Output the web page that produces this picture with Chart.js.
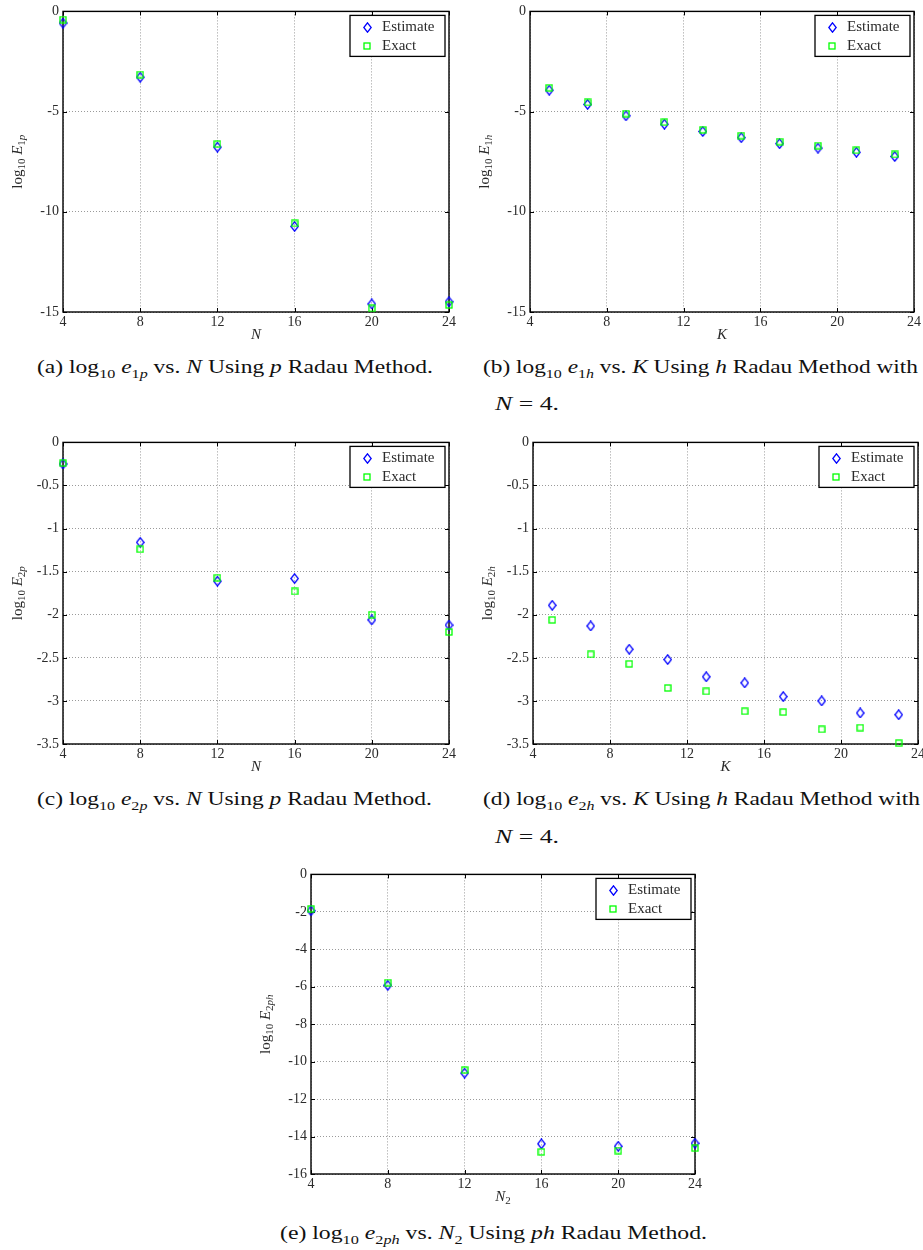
<!DOCTYPE html>
<html>
<head>
<meta charset="utf-8">
<script src="https://cdn.jsdelivr.net/npm/chart.js@4.4.1/dist/chart.umd.min.js"></script>
<style>
  body { margin: 0; background: #fff; overflow: hidden; width: 923px; height: 1250px; position: relative; }
  canvas { position: absolute; }
  .cap { position: absolute; font-family: "Liberation Serif", serif; font-size: 19px; line-height: 20px; white-space: nowrap; color: #111; transform-origin: 0 50%; }
  .cap sub { font-size: 13px; line-height: 0; }
</style>
</head>
<body>
<canvas id="chartA"></canvas>
<canvas id="chartB"></canvas>
<canvas id="chartC"></canvas>
<canvas id="chartD"></canvas>
<canvas id="chartE"></canvas>

<div class="cap" data-w="396" style="left:37px;top:357px">(a) log<sub>10</sub> <i>e</i><sub>1<i>p</i></sub> vs. <i>N</i> Using <i>p</i> Radau Method.</div>
<div class="cap" data-w="435" style="left:483px;top:357px">(b) log<sub>10</sub> <i>e</i><sub>1<i>h</i></sub> vs. <i>K</i> Using <i>h</i> Radau Method with</div>
<div class="cap" data-w="64" style="left:495px;top:394px"><i>N</i> = 4.</div>
<div class="cap" data-w="395" style="left:37px;top:789px">(c) log<sub>10</sub> <i>e</i><sub>2<i>p</i></sub> vs. <i>N</i> Using <i>p</i> Radau Method.</div>
<div class="cap" data-w="437" style="left:483px;top:789px">(d) log<sub>10</sub> <i>e</i><sub>2<i>h</i></sub> vs. <i>K</i> Using <i>h</i> Radau Method with</div>
<div class="cap" data-w="64" style="left:495px;top:827px"><i>N</i> = 4.</div>
<div class="cap" data-w="427" style="left:280px;top:1223px">(e) log<sub>10</sub> <i>e</i><sub>2<i>ph</i></sub> vs. <i>N</i><sub>2</sub> Using <i>ph</i> Radau Method.</div>

<script>
// x values
const nValues = [4, 8, 12, 16, 20, 24];
const kValues = [5, 7, 9, 11, 13, 15, 17, 19, 21, 23];

// (a) p method, e1
const e1pEstimate = [-0.58, -3.28, -6.77, -10.73, -14.60, -14.49];
const e1pExact = [-0.41, -3.15, -6.62, -10.58, -14.82, -14.65];
// (b) h method, e1
const e1hEstimate = [-3.93, -4.64, -5.21, -5.63, -5.99, -6.30, -6.60, -6.82, -7.03, -7.24];
const e1hExact = [-3.81, -4.54, -5.10, -5.53, -5.91, -6.20, -6.50, -6.70, -6.93, -7.14];
// (c) p method, e2
const e2pEstimate = [-0.25, -1.16, -1.61, -1.58, -2.06, -2.12];
const e2pExact = [-0.24, -1.24, -1.57, -1.73, -2.00, -2.20];
// (d) h method, e2
const e2hEstimate = [-1.89, -2.13, -2.40, -2.52, -2.72, -2.79, -2.95, -3.00, -3.14, -3.16];
const e2hExact = [-2.06, -2.46, -2.57, -2.85, -2.89, -3.12, -3.13, -3.33, -3.31, -3.49];
// (e) ph method, e2
const e2phEstimate = [-1.94, -5.92, -10.61, -14.39, -14.52, -14.36];
const e2phExact = [-1.84, -5.78, -10.45, -14.82, -14.75, -14.62];

// tick labels
const xTicks = [4, 8, 12, 16, 20, 24];
const yTicks15 = [0, -5, -10, -15];
const yTicks35 = [0, -0.5, -1, -1.5, -2, -2.5, -3, -3.5];
const yTicks16 = [0, -2, -4, -6, -8, -10, -12, -14, -16];

const legendLabels = ['Estimate', 'Exact'];

const FONT = '"Liberation Serif", serif';
const TEXT = '#2a2a2a';

// stretch captions to the width they have in the figure (Palatino is wider than Times)
document.querySelectorAll('.cap').forEach(el => {
  const w = el.getBoundingClientRect().width;
  el.style.transform = 'scaleX(' + (Number(el.dataset.w) / w) + ')';
});

// markers: tall blue diamond, green square
function makeDiamond() {
  const c = document.createElement('canvas');
  c.width = 9; c.height = 11;
  const g = c.getContext('2d');
  g.strokeStyle = '#0000ff';
  g.lineWidth = 1.3;
  g.beginPath();
  g.moveTo(4.5, 0.8); g.lineTo(8.2, 5.5); g.lineTo(4.5, 10.2); g.lineTo(0.8, 5.5);
  g.closePath();
  g.stroke();
  return c;
}
function makeSquare() {
  const c = document.createElement('canvas');
  c.width = 8; c.height = 8;
  const g = c.getContext('2d');
  g.strokeStyle = '#00ff00';
  g.lineWidth = 1.3;
  g.strokeRect(1, 1, 6, 6);
  return c;
}
const diamond = makeDiamond();
const square = makeSquare();

function fontFor(p) {
  return (p[1] ? 'italic ' : '') + (p[2] ? 11 : 15) + 'px ' + FONT;
}

// text with subscripts, centred on (x, y)
function drawRich(ctx, parts, x, y, vertical) {
  ctx.save();
  ctx.translate(x, y);
  if (vertical) ctx.rotate(-Math.PI / 2);
  ctx.fillStyle = TEXT;
  ctx.textBaseline = 'alphabetic';
  ctx.textAlign = 'left';
  let total = 0;
  parts.forEach(p => { ctx.font = fontFor(p); total += ctx.measureText(p[0]).width; });
  let cx = -total / 2;
  parts.forEach(p => {
    ctx.font = fontFor(p);
    ctx.fillText(p[0], cx, p[2] ? 8 : 5);
    cx += ctx.measureText(p[0]).width;
  });
  ctx.restore();
}

const framePlugin = {
  id: 'frame',
  beforeDatasetsDraw(chart) {
    const { ctx, chartArea: a, scales } = chart;
    ctx.save();
    ctx.strokeStyle = '#000';
    ctx.lineWidth = 1;
    ctx.beginPath();
    xTicks.forEach(v => {
      const px = Math.round(scales.x.getPixelForValue(v)) + 0.5;
      ctx.moveTo(px, a.bottom); ctx.lineTo(px, a.bottom - 4);
      ctx.moveTo(px, a.top); ctx.lineTo(px, a.top + 4);
    });
    scales.y.ticks.forEach(t => {
      const py = Math.round(scales.y.getPixelForValue(t.value)) + 0.5;
      ctx.moveTo(a.left, py); ctx.lineTo(a.left + 4, py);
      ctx.moveTo(a.right, py); ctx.lineTo(a.right - 4, py);
    });
    ctx.stroke();
    ctx.lineWidth = 1.4;
    ctx.strokeRect(a.left, a.top, a.right - a.left, a.bottom - a.top);
    ctx.restore();
  },
  afterDatasetsDraw(chart, args, opts) {
    const { ctx, chartArea: a } = chart;
    // legend box, top right inside the plot
    const w = 95, h = 41;
    const bx = a.right - 4 - w, by = a.top + 4;
    ctx.save();
    ctx.fillStyle = '#fff';
    ctx.fillRect(bx, by, w, h);
    ctx.strokeStyle = '#000';
    ctx.lineWidth = 1.3;
    ctx.strokeRect(bx, by, w, h);
    ctx.drawImage(diamond, Math.round(bx + 17 - 4.5), Math.round(by + 12 - 5.5));
    ctx.drawImage(square, Math.round(bx + 17 - 4), Math.round(by + 31 - 4));
    ctx.fillStyle = TEXT;
    ctx.font = '15px ' + FONT;
    ctx.textBaseline = 'middle';
    ctx.fillText(legendLabels[0], bx + 32, by + 12);
    ctx.fillText(legendLabels[1], bx + 32, by + 31);
    ctx.restore();
    // axis titles
    drawRich(ctx, opts.yTitle, a.left - 46, (a.top + a.bottom) / 2, true);
    drawRich(ctx, opts.xTitle, (a.left + a.right) / 2, a.bottom + 22, false);
  }
};

function makeChart(id, box, xs, est, exa, yTicks, yTitle, xTitle) {
  const cv = document.getElementById(id);
  cv.width = box.r - box.l + 72;
  cv.height = box.b - box.t + 50;
  cv.style.left = (box.l - 60) + 'px';
  cv.style.top = (box.t - 10) + 'px';
  const toPts = ys => xs.map((x, i) => ({ x: x, y: ys[i] }));
  new Chart(cv.getContext('2d'), {
    type: 'scatter',
    data: {
      datasets: [
        { label: legendLabels[0], data: toPts(est), pointStyle: diamond, pointRadius: 5, clip: false, order: 1 },
        { label: legendLabels[1], data: toPts(exa), pointStyle: square, pointRadius: 4, clip: false, order: 0 }
      ]
    },
    options: {
      responsive: false,
      animation: false,
      events: [],
      layout: { padding: { left: 0, top: 10, right: 12, bottom: 0 } },
      plugins: {
        legend: { display: false },
        tooltip: { enabled: false },
        frame: { yTitle: yTitle, xTitle: xTitle }
      },
      scales: {
        x: {
          type: 'linear', min: 4, max: 24,
          afterBuildTicks: s => { s.ticks = xTicks.map(v => ({ value: v })); },
          afterFit: s => { s.height = 40; },
          grid: { color: '#9a9a9a', lineWidth: 1, drawTicks: false },
          border: { display: false, dash: [1, 2] },
          ticks: { padding: 2, color: TEXT, font: { family: FONT, size: 14 }, maxRotation: 0, autoSkip: false }
        },
        y: {
          type: 'linear', min: yTicks[yTicks.length - 1], max: yTicks[0],
          afterBuildTicks: s => { s.ticks = yTicks.map(v => ({ value: v })); },
          afterFit: s => { s.width = 60; },
          grid: { color: '#9a9a9a', lineWidth: 1, drawTicks: false },
          border: { display: false, dash: [1, 2] },
          ticks: { padding: 4, color: TEXT, font: { family: FONT, size: 14 }, autoSkip: false,
                   callback: v => String(v) }
        }
      }
    },
    plugins: [framePlugin]
  });
}

const logPart = [['log', false, false], ['10', false, true], [' ', false, false], ['E', true, false]];

makeChart('chartA', { l: 63, t: 9, r: 449, b: 312 }, nValues, e1pEstimate, e1pExact, yTicks15,
  logPart.concat([['1', false, true], ['p', true, true]]), [['N', true, false]]);
makeChart('chartB', { l: 530, t: 9, r: 914, b: 312 }, kValues, e1hEstimate, e1hExact, yTicks15,
  logPart.concat([['1', false, true], ['h', true, true]]), [['K', true, false]]);
makeChart('chartC', { l: 63, t: 440, r: 449, b: 744 }, nValues, e2pEstimate, e2pExact, yTicks35,
  logPart.concat([['2', false, true], ['p', true, true]]), [['N', true, false]]);
makeChart('chartD', { l: 533, t: 440, r: 918, b: 744 }, kValues, e2hEstimate, e2hExact, yTicks35,
  logPart.concat([['2', false, true], ['h', true, true]]), [['K', true, false]]);
makeChart('chartE', { l: 311, t: 872, r: 695, b: 1174 }, nValues, e2phEstimate, e2phExact, yTicks16,
  logPart.concat([['2', false, true], ['ph', true, true]]), [['N', true, false], ['2', false, true]]);
</script>
</body>
</html>
